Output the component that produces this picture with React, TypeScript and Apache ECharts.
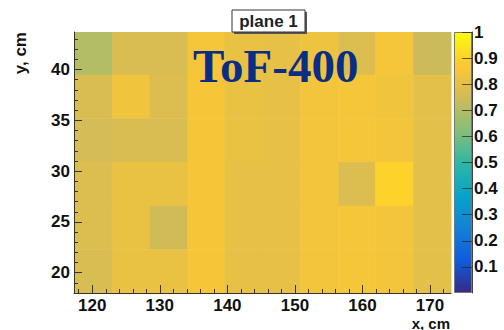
import React, { useEffect, useRef } from 'react';
import * as echarts from 'echarts';

// Bin edges (cm)
const xEdges = [117.3, 122.9, 128.5, 134.1, 139.6, 145.2, 150.8, 156.4, 161.9, 167.5, 173.1];
const yEdges = [43.7, 39.5, 35.2, 30.9, 26.6, 22.3, 18.0]; // top -> bottom

// Efficiency per cell, rows top -> bottom, columns left -> right
const efficiency = [
  [0.70, 0.77, 0.77, 0.85, 0.82, 0.81, 0.83, 0.78, 0.85, 0.74],
  [0.77, 0.84, 0.78, 0.855, 0.82, 0.81, 0.845, 0.85, 0.84, 0.80],
  [0.76, 0.77, 0.77, 0.855, 0.82, 0.81, 0.845, 0.85, 0.845, 0.80],
  [0.78, 0.82, 0.82, 0.855, 0.81, 0.81, 0.845, 0.78, 0.90, 0.80],
  [0.78, 0.82, 0.75, 0.855, 0.81, 0.81, 0.845, 0.85, 0.845, 0.80],
  [0.77, 0.82, 0.82, 0.855, 0.81, 0.81, 0.845, 0.85, 0.845, 0.80],
];

const xMajorTicks = [120, 130, 140, 150, 160, 170];
const xMinorTicks = [118, 122, 124, 126, 128, 132, 134, 136, 138, 142, 144, 146, 148, 152, 154, 156, 158, 162, 164, 166, 168, 172];
const yMajorTicks = [20, 25, 30, 35, 40];
const yMinorTicks = [19, 21, 22, 23, 24, 26, 27, 28, 29, 31, 32, 33, 34, 36, 37, 38, 39, 41, 42, 43];
const colorbarTicks = [0.1, 0.2, 0.3, 0.4, 0.5, 0.6, 0.7, 0.8, 0.9, 1];
const palette = ['#352a87', '#0f5cdd', '#1481d6', '#06a4ca', '#2eb7a4', '#87bf77', '#d1bb59', '#fec832', '#f9fb0e'];

const FONT = '"Liberation Sans", Arial, Helvetica, sans-serif';

export default function App() {
  const ref = useRef<HTMLDivElement>(null);
  useEffect(() => {
    if (!ref.current) return;
    const chart = echarts.init(ref.current, undefined, { renderer: 'svg' });

    const cells: number[][] = [];
    efficiency.forEach((row, r) => {
      row.forEach((v, c) => {
        cells.push([xEdges[c], xEdges[c + 1], yEdges[r + 1], yEdges[r], v]);
      });
    });

    const gradStops = palette.map((col, i) => ({ offset: 1 - i / (palette.length - 1), color: col })).reverse();

    const labelStyle = { color: '#111', fontSize: 17, fontWeight: 'bold' as const, fontFamily: FONT };

    chart.setOption({
      animation: false,
      backgroundColor: '#ffffff',
      textStyle: { fontFamily: FONT },
      grid: [
        { left: 74, top: 32, width: 377, height: 261 },
        { left: 454, top: 32, width: 18, height: 261 },
      ],
      xAxis: [
        {
          gridIndex: 0, type: 'value', min: xEdges[0], max: xEdges[xEdges.length - 1], z: 10,
          splitLine: { show: false },
          axisLine: { show: true, lineStyle: { color: '#333', width: 1 } },
          axisTick: { show: true, inside: true, length: 8, customValues: xMajorTicks, lineStyle: { color: '#333' } },
          axisLabel: { ...labelStyle, margin: 4, customValues: xMajorTicks },
        },
        {
          gridIndex: 0, type: 'value', min: xEdges[0], max: xEdges[xEdges.length - 1], z: 10,
          position: 'bottom',
          splitLine: { show: false },
          axisLine: { show: false },
          axisTick: { show: true, inside: true, length: 4, customValues: xMinorTicks, lineStyle: { color: '#333' } },
          axisLabel: { show: false },
        },
        {
          gridIndex: 1, type: 'category', data: ['c'], show: false,
        },
      ],
      yAxis: [
        {
          gridIndex: 0, type: 'value', min: yEdges[yEdges.length - 1], max: yEdges[0], z: 10,
          splitLine: { show: false },
          axisLine: { show: true, lineStyle: { color: '#333', width: 1 } },
          axisTick: { show: true, inside: true, length: 8, customValues: yMajorTicks, lineStyle: { color: '#333' } },
          axisLabel: { ...labelStyle, margin: 4, customValues: yMajorTicks },
        },
        {
          gridIndex: 0, type: 'value', min: yEdges[yEdges.length - 1], max: yEdges[0], z: 10,
          position: 'left',
          splitLine: { show: false },
          axisLine: { show: false },
          axisTick: { show: true, inside: true, length: 4, customValues: yMinorTicks, lineStyle: { color: '#333' } },
          axisLabel: { show: false },
        },
        {
          gridIndex: 1, type: 'value', min: 0, max: 1, position: 'right', z: 10,
          splitLine: { show: false },
          axisLine: { show: true, lineStyle: { color: '#444', width: 1 } },
          axisTick: { show: true, inside: true, length: 10, customValues: colorbarTicks, lineStyle: { color: 'rgba(50,40,20,0.75)' } },
          axisLabel: { ...labelStyle, margin: 2, customValues: colorbarTicks },
        },
      ],
      visualMap: {
        show: false,
        type: 'continuous',
        min: 0,
        max: 1,
        dimension: 4,
        seriesIndex: 0,
        inRange: { color: palette },
      },
      series: [
        {
          type: 'custom',
          xAxisIndex: 0,
          yAxisIndex: 0,
          encode: { x: [0, 1], y: [2, 3] },
          data: cells,
          silent: true,
          renderItem: (params: any, api: any) => {
            const p0 = api.coord([api.value(0), api.value(3)]);
            const p1 = api.coord([api.value(1), api.value(2)]);
            return {
              type: 'rect',
              shape: { x: p0[0], y: p0[1], width: p1[0] - p0[0] + 0.5, height: p1[1] - p0[1] + 0.5 },
              style: { fill: api.visual('color') },
            };
          },
        },
        {
          type: 'bar',
          xAxisIndex: 2,
          yAxisIndex: 2,
          data: [1],
          barWidth: '100%',
          silent: true,
          itemStyle: {
            color: new echarts.graphic.LinearGradient(0, 0, 0, 1, gradStops),
            borderColor: '#777',
            borderWidth: 1,
          },
        },
      ],
      graphic: [
        {
          type: 'rect', shape: { x: 234, y: 12, width: 73, height: 22 },
          style: { fill: '#555' }, z: 20,
        },
        {
          type: 'rect', shape: { x: 232, y: 10, width: 73, height: 22 },
          style: { fill: '#fff', stroke: '#333', lineWidth: 1 }, z: 21,
        },
        {
          type: 'text', x: 268.5, y: 21, z: 22,
          style: { text: 'plane 1', fill: '#222', font: `bold 17px ${FONT}`, textAlign: 'center', textVerticalAlign: 'middle' },
        },
        {
          type: 'text', x: 193, y: 66, z: 22,
          style: { text: 'ToF-400', fill: '#0a2d85', font: 'bold 47px "Liberation Serif", "Times New Roman", serif', textAlign: 'left', textVerticalAlign: 'middle' },
        },
        {
          type: 'text', x: 20, y: 32, rotation: Math.PI / 2, z: 22,
          style: { text: 'y, cm', fill: '#111', font: `bold 17px ${FONT}`, textAlign: 'right', textVerticalAlign: 'middle' },
        },
        {
          type: 'text', x: 450, y: 323, z: 22,
          style: { text: 'x, cm', fill: '#111', font: `bold 15px ${FONT}`, textAlign: 'right', textVerticalAlign: 'middle' },
        },
      ],
    });
    return () => chart.dispose();
  }, []);
  return <div ref={ref} style={{ position: 'fixed', left: 0, top: 0, width: 504, height: 330 }} />;
}
